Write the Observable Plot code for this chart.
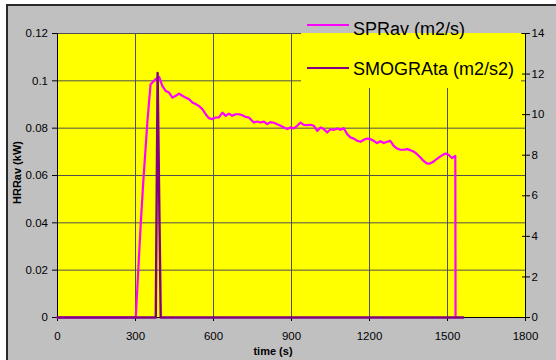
<!DOCTYPE html>
<html>
<head>
<meta charset="utf-8">
<script src="https://cdn.jsdelivr.net/npm/d3@7"></script>
<script src="https://cdn.jsdelivr.net/npm/@observablehq/plot@0.6"></script>
<style>
  html, body { margin: 0; padding: 0; background: #fff; }
  #wrap { position: relative; width: 556px; height: 360px; overflow: hidden; font-family: "Liberation Sans", Arial, sans-serif; }
  #frame { position: absolute; left: 6px; top: 4px; width: 570px; height: 380px; background: #c0c0c0; border-left: 2px solid #2a2a2a; border-top: 2px solid #2a2a2a; }
  #chart { position: absolute; left: 0; top: 0; }
  #legbox { position: absolute; left: 301px; top: 33px; width: 220px; height: 55px; background: #ffff00; }
  .legline { position: absolute; left: 307px; width: 42px; height: 2px; }
  .legtext { position: absolute; left: 353px; font-size: 18px; line-height: 18px; color: #000; white-space: nowrap; }
  .axtitle { position: absolute; font-size: 11px; font-weight: bold; color: #000; white-space: nowrap; }
</style>
</head>
<body>
<div id="wrap">
  <div id="frame"></div>
  <div id="chart"></div>
  <div id="legbox"></div>
  <div class="legline" style="top:24px;background:#ff00ff"></div>
  <div class="legtext" style="top:20px">SPRav (m2/s)</div>
  <div class="legline" style="top:67px;background:#800080"></div>
  <div class="legtext" style="top:60px">SMOGRAta (m2/s2)</div>
  <div class="axtitle" style="left:0;top:168px;width:60px;text-align:center;transform:translate(-13px,0) rotate(-90deg);">HRRav (kW)</div>
  <div class="axtitle" style="left:233px;top:345px;width:80px;text-align:center;">time (s)</div>
</div>
<script>
// ---- data ----
const xTicks = [0, 300, 600, 900, 1200, 1500, 1800];
const leftTicks = [0, 0.02, 0.04, 0.06, 0.08, 0.1, 0.12];
const rightTicks = [0, 2, 4, 6, 8, 10, 12, 14];
const leftMax = 0.12;
const rightMax = 14;

const sprTime = [0, 301, 320, 330, 346, 358, 378, 391, 403, 416, 429, 442, 455, 467, 480, 493, 506, 519, 531, 544, 557, 570, 582, 595, 608, 621, 634, 647, 659, 672, 685, 698, 711, 723, 736, 755, 768, 781, 794, 807, 819, 832, 845, 858, 871, 884, 896, 909, 922, 935, 947, 960, 973, 986, 999, 1012, 1024, 1037, 1050, 1063, 1076, 1088, 1101, 1114, 1127, 1140, 1153, 1165, 1178, 1191, 1204, 1216, 1229, 1242, 1255, 1268, 1280, 1293, 1306, 1319, 1332, 1345, 1357, 1370, 1383, 1396, 1408, 1420, 1432, 1444, 1457, 1470, 1483, 1492, 1504, 1517, 1530, 1531];
const sprValue = [0, 0, 4.6, 6.7, 9.7, 11.5, 11.75, 11.86, 11.42, 11.17, 11.09, 10.84, 10.93, 11.04, 10.93, 10.84, 10.76, 10.6, 10.52, 10.43, 10.27, 10.02, 9.83, 9.78, 9.86, 9.86, 10.1, 9.94, 10.05, 9.94, 10.02, 10.02, 9.97, 9.89, 9.86, 9.61, 9.66, 9.61, 9.66, 9.53, 9.63, 9.6, 9.53, 9.45, 9.37, 9.29, 9.37, 9.32, 9.45, 9.61, 9.5, 9.48, 9.5, 9.45, 9.2, 9.37, 9.29, 9.12, 9.28, 9.25, 9.32, 9.25, 9.33, 9.04, 8.87, 8.82, 8.71, 8.66, 8.76, 8.82, 8.79, 8.71, 8.6, 8.69, 8.6, 8.66, 8.71, 8.46, 8.33, 8.27, 8.27, 8.3, 8.25, 8.18, 8.05, 7.89, 7.72, 7.6, 7.59, 7.66, 7.8, 7.92, 8.02, 8.08, 8.02, 7.86, 7.97, 0];

const smogTime = [0, 378, 385, 397, 1561];
const smogValue = [0, 0, 12.05, 0, 0];

// ---- tables ----
const spr = sprTime.map((t, i) => ({t, v: sprValue[i]}));
const smog = smogTime.map((t, i) => ({t, v: smogValue[i]}));
const leftPos = leftTicks.map(v => v * rightMax / leftMax);
const leftLabel = new Map(leftPos.map((p, i) => [p, String(leftTicks[i])]));

const font = "Liberation Sans, Arial, sans-serif";
const chart = Plot.plot({
  width: 556,
  height: 360,
  marginLeft: 57,
  marginRight: 31,
  marginTop: 33,
  marginBottom: 43,
  style: {background: "transparent", fontFamily: font, fontSize: "11.5px", color: "#000"},
  x: {domain: [0, 1800]},
  y: {domain: [0, rightMax]},
  marks: [
    Plot.frame({fill: "#ffff00", stroke: null}),
    Plot.ruleX(xTicks, {stroke: "#505050", strokeWidth: 1}),
    Plot.ruleY(leftPos, {stroke: "#505050", strokeWidth: 1}),
    Plot.axisX({ticks: xTicks, tickSize: 4, tickPadding: 10, tickFormat: d => String(d), label: null, stroke: "#000"}),
    Plot.axisY({anchor: "left", ticks: leftPos, tickSize: 5, tickPadding: 4.5, tickFormat: d => leftLabel.get(d), label: null, stroke: "#000"}),
    Plot.axisY({anchor: "right", ticks: rightTicks, tickSize: 4, tickPadding: 2, tickFormat: d => String(d), label: null, stroke: "#000"}),
    Plot.axisY({anchor: "right", ticks: rightTicks, tickSize: 4, tickPadding: 0, tickFormat: () => "", label: null, stroke: "#000", dx: -4}),
    Plot.ruleX([0, 1800], {stroke: "#000", strokeWidth: 1}),
    Plot.ruleY([0], {stroke: "#000", strokeWidth: 1}),
    Plot.line(spr, {x: "t", y: "v", stroke: "#ff00ff", strokeWidth: 2.2, curve: "linear"}),
    Plot.line(smog, {x: "t", y: "v", stroke: "#800080", strokeWidth: 2.4, curve: "linear"})
  ]
});
document.getElementById("chart").appendChild(chart);
</script>
</body>
</html>
